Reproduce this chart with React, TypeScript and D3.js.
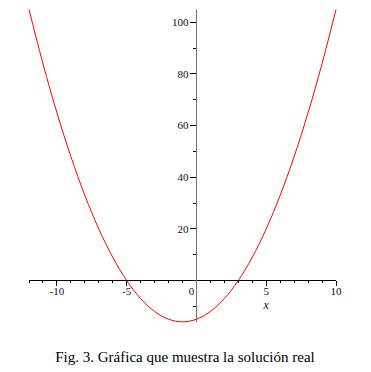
import React from "react";
import * as d3 from "d3";

const xValues = [-12, -11, -10, -9, -8, -7, -6, -5, -4, -3, -2, -1, 0, 1, 2, 3, 4, 5, 6, 7, 8, 9, 10];
const yValues = [105, 84, 65, 48, 33, 20, 9, 0, -7, -12, -15, -16, -15, -12, -7, 0, 9, 20, 33, 48, 65, 84, 105];
const xMajorTicks = [-10, -5, 0, 5, 10];
const xMinorTicks = [-12, -11, -9, -8, -7, -6, -4, -3, -2, -1, 1, 2, 3, 4, 6, 7, 8, 9];
const yMajorTicks = [20, 40, 60, 80, 100];
const yMinorTicks = [-10, 10, 30, 50, 70, 90];
const xAxisTitle = "x";
const caption = "Fig. 3. Gráfica que muestra la solución real";

export default function App() {
  const W = 371, H = 372;
  const x = d3.scaleLinear().domain([-12, 10]).range([29, 336]);
  const y = d3.scaleLinear().domain([0, 100]).range([280.5, 22.3]);
  const pts: [number, number][] = xValues.map((v, i) => [v, yValues[i]]);
  const line = d3.line<[number, number]>().x(d => x(d[0])).y(d => y(d[1])).curve(d3.curveNatural);
  const x0 = x(0);
  const y0 = y(0);
  const font = "'Liberation Serif', 'Times New Roman', serif";
  return (
    <svg width={W} height={H} style={{ position: "absolute", left: 0, top: 0, background: "#fff" }} fontFamily={font}>
      {/* x axis */}
      <line x1={x(-12)} x2={x(10)} y1={y0} y2={y0} stroke="#000" strokeWidth={1} shapeRendering="crispEdges" />
      {xMajorTicks.map(t => (
        <line key={"xm" + t} x1={x(t)} x2={x(t)} y1={y0} y2={y0 + 5} stroke="#000" shapeRendering="crispEdges" />
      ))}
      {xMinorTicks.map(t => (
        <line key={"xn" + t} x1={x(t)} x2={x(t)} y1={y0} y2={y0 + 2} stroke="#000" shapeRendering="crispEdges" />
      ))}
      {xMajorTicks.map(t => (
        <text key={"xl" + t} x={t === 0 ? x(t) - 5 : x(t)} y={y0 + 14} fontSize={11} textAnchor="middle" fill="#111">
          {t < 0 ? "-" + Math.abs(t) : String(t)}
        </text>
      ))}
      <text x={x(5)} y={y0 + 28} fontSize={12} fontStyle="italic" textAnchor="middle" fill="#111">{xAxisTitle}</text>
      {/* y axis */}
      <line x1={x0} x2={x0} y1={y(105)} y2={y(-16)} stroke="#777" strokeWidth={1} shapeRendering="crispEdges" />
      {yMajorTicks.map(t => (
        <line key={"ym" + t} x1={x0 - 6} x2={x0} y1={y(t)} y2={y(t)} stroke="#000" shapeRendering="crispEdges" />
      ))}
      {yMinorTicks.map(t => (
        <line key={"yn" + t} x1={x0 - 3} x2={x0} y1={y(t)} y2={y(t)} stroke="#000" shapeRendering="crispEdges" />
      ))}
      {yMajorTicks.map(t => (
        <text key={"yl" + t} x={x0 - 8} y={y(t)} dy="0.35em" fontSize={11} textAnchor="end" fill="#111">{t}</text>
      ))}
      {/* curve */}
      <path d={line(pts) || ""} fill="none" stroke="#ff0000" strokeWidth={1} />
      {/* caption */}
      <text x={185} y={362} fontSize={15} textAnchor="middle" fill="#000">{caption}</text>
    </svg>
  );
}
